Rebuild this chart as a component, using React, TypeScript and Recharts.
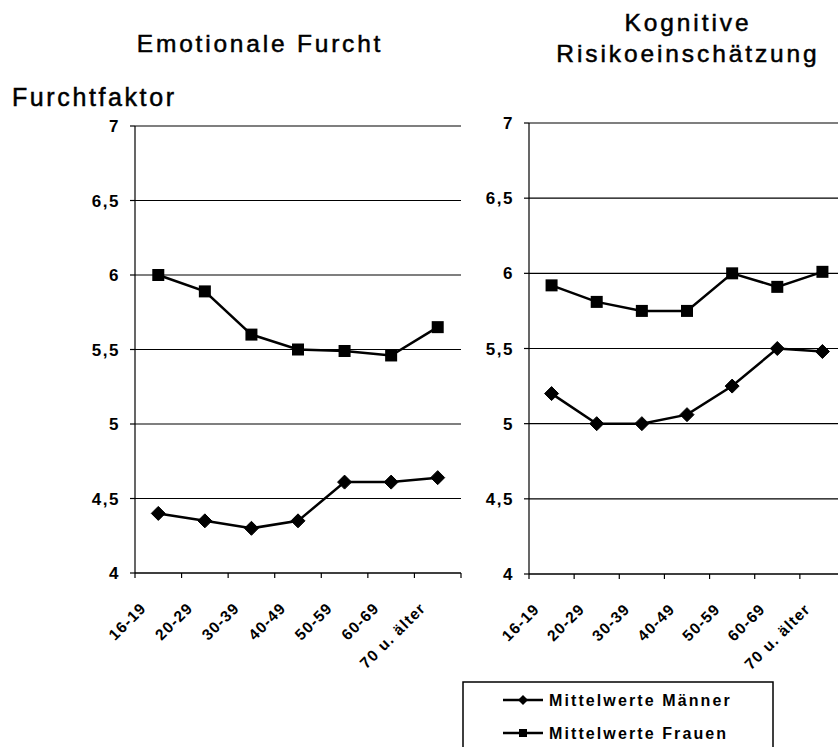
import React from 'react';
import { LineChart, Line, XAxis, YAxis, CartesianGrid } from 'recharts';

const categories = ['16-19', '20-29', '30-39', '40-49', '50-59', '60-69', '70 u. älter'];
const furchtMaenner = [4.4, 4.35, 4.3, 4.35, 4.61, 4.61, 4.64];
const furchtFrauen = [6.0, 5.89, 5.6, 5.5, 5.49, 5.46, 5.65];
const risikoMaenner = [5.2, 5.0, 5.0, 5.06, 5.25, 5.5, 5.48];
const risikoFrauen = [5.92, 5.81, 5.75, 5.75, 6.0, 5.91, 6.01];
const yTicks = [4, 4.5, 5, 5.5, 6, 6.5, 7];
const xBoundaries = [0, 1, 2, 3, 4, 5, 6, 7];
const legendLabels = ['Mittelwerte Männer', 'Mittelwerte Frauen'];
const titleLeft = 'Emotionale Furcht';
const titleRight = ['Kognitive', 'Risikoeinschätzung'];
const yTitle = 'Furchtfaktor';

const FONT = '"Liberation Sans", Arial, Helvetica, sans-serif';

const buildData = (m: number[], f: number[]) =>
  categories.map((c, i) => ({ x: i + 0.5, name: c, m: m[i], f: f[i] }));

const Diamond = (props: any) => {
  const { cx, cy } = props;
  if (cx == null || cy == null) return <g />;
  const r = 7;
  return (
    <polygon
      points={`${cx},${cy - r} ${cx + r},${cy} ${cx},${cy + r} ${cx - r},${cy}`}
      fill="#000"
      stroke="#000"
    />
  );
};

const Square = (props: any) => {
  const { cx, cy } = props;
  if (cx == null || cy == null) return <g />;
  const s = 12;
  return <rect x={cx - s / 2} y={cy - s / 2} width={s} height={s} fill="#000" />;
};

type PanelProps = {
  left: number;
  width: number;
  height: number;
  plotLeft: number;
  plotRight: number;
  plotTop: number;
  plotBottom: number;
  data: any[];
};

const Y_AXIS_W = 60;
const X_AXIS_H = 60;

const Panel = ({ left, width, height, plotLeft, plotRight, plotTop, plotBottom, data }: PanelProps) => {
  const band = (plotRight - plotLeft) / 7;
  const XTick = (props: any) => {
    const { x, payload } = props;
    const v = payload?.value;
    if (v == null || v >= 7) return <g />;
    const ax = x + band / 2 - 11;
    const ay = plotBottom + 36;
    return (
      <text
        x={ax}
        y={ay}
        textAnchor="end"
        transform={`rotate(-45, ${ax}, ${ay})`}
        style={{ fontFamily: FONT, fontWeight: 700, fontSize: 15.5, letterSpacing: 1.2 }}
        fill="#000"
      >
        {categories[v]}
      </text>
    );
  };
  return (
    <div style={{ position: 'absolute', left, top: 0 }}>
      <LineChart
        width={width}
        height={height}
        data={data}
        margin={{
          top: plotTop,
          left: plotLeft - Y_AXIS_W,
          right: width - plotRight,
          bottom: height - plotBottom - X_AXIS_H,
        }}
      >
        <CartesianGrid vertical={false} stroke="#000" strokeWidth={1.2} />
        <XAxis
          dataKey="x"
          type="number"
          domain={[0, 7]}
          ticks={xBoundaries}
          interval={0}
          height={X_AXIS_H}
          tick={XTick}
          tickSize={5}
          axisLine={{ stroke: '#000', strokeWidth: 1.2 }}
          tickLine={{ stroke: '#000', strokeWidth: 1.2 }}
          allowDataOverflow
        />
        <YAxis
          type="number"
          domain={[4, 7]}
          ticks={yTicks}
          interval={0}
          width={Y_AXIS_W}
          tickSize={5}
          tickMargin={10}
          tickFormatter={(v: number) => String(v).replace('.', ',')}
          tick={{ fill: '#000', fontFamily: FONT, fontWeight: 700, fontSize: 17, letterSpacing: 1.5 }}
          axisLine={{ stroke: '#000', strokeWidth: 1.2 }}
          tickLine={{ stroke: '#000', strokeWidth: 1.2 }}
        />
        <Line
          type="linear"
          dataKey="m"
          stroke="#000"
          strokeWidth={2.5}
          dot={<Diamond />}
          isAnimationActive={false}
        />
        <Line
          type="linear"
          dataKey="f"
          stroke="#000"
          strokeWidth={2.5}
          dot={<Square />}
          isAnimationActive={false}
        />
      </LineChart>
    </div>
  );
};

export default function App() {
  const leftData = buildData(furchtMaenner, furchtFrauen);
  const rightData = buildData(risikoMaenner, risikoFrauen);
  return (
    <div
      style={{
        position: 'absolute',
        left: 0,
        top: 0,
        width: 838,
        height: 747,
        overflow: 'hidden',
        background: '#fff',
      }}
    >
      <Panel
        left={0}
        width={480}
        height={747}
        plotLeft={135}
        plotRight={461}
        plotTop={126}
        plotBottom={573}
        data={leftData}
      />
      <Panel
        left={0}
        width={880}
        height={747}
        plotLeft={529}
        plotRight={845}
        plotTop={123}
        plotBottom={574}
        data={rightData}
      />
      <svg
        width={838}
        height={747}
        style={{ position: 'absolute', left: 0, top: 0, pointerEvents: 'none' }}
      >
        <g style={{ fontFamily: FONT }} fill="#000" stroke="#000" strokeWidth={0.5}>
          <text x={260} y={52} textAnchor="middle" fontSize={24.5} letterSpacing={2.8}>
            {titleLeft}
          </text>
          <text x={12} y={106} fontSize={25} letterSpacing={2.6}>
            {yTitle}
          </text>
          <text x={688} y={31} textAnchor="middle" fontSize={24.5} letterSpacing={2.9}>
            {titleRight[0]}
          </text>
          <text x={688} y={62} textAnchor="middle" fontSize={24.5} letterSpacing={2.9}>
            {titleRight[1]}
          </text>
        </g>
        <rect x={463} y={682} width={310} height={90} fill="#fff" stroke="#000" strokeWidth={1.5} />
        <line x1={503} y1={700} x2={543} y2={700} stroke="#000" strokeWidth={2.5} />
        <polygon points="523,695 528,700 523,705 518,700" fill="#000" />
        <text
          x={549}
          y={700}
          dominantBaseline="central"
          style={{ fontFamily: FONT, fontWeight: 700, fontSize: 16, letterSpacing: 2.1 }}
          fill="#000"
        >
          {legendLabels[0]}
        </text>
        <line x1={503} y1={733} x2={543} y2={733} stroke="#000" strokeWidth={2.5} />
        <rect x={519} y={729} width={8} height={8} fill="#000" />
        <text
          x={549}
          y={733}
          dominantBaseline="central"
          style={{ fontFamily: FONT, fontWeight: 700, fontSize: 16, letterSpacing: 2.1 }}
          fill="#000"
        >
          {legendLabels[1]}
        </text>
      </svg>
    </div>
  );
}
